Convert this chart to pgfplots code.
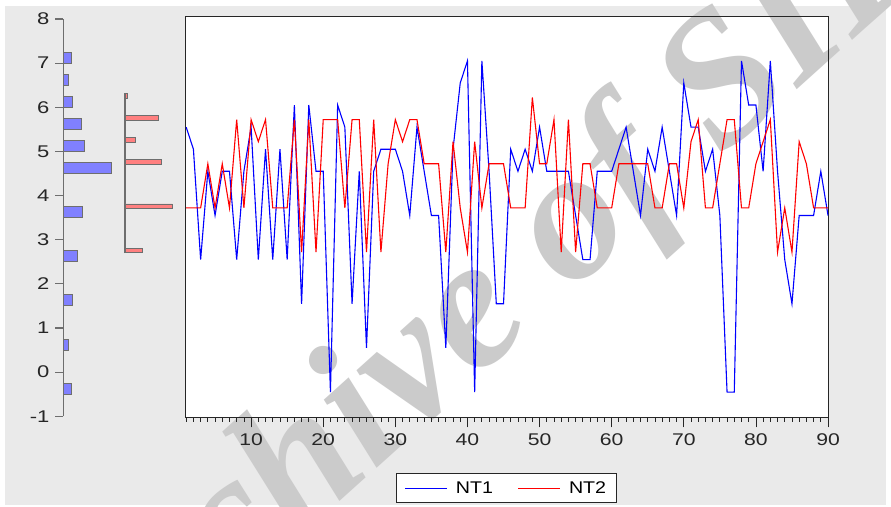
\documentclass[border=0pt]{standalone}
\usepackage{fontspec}
\setmainfont{Liberation Sans}
\newfontfamily\wmfont{Liberation Serif}
\usepackage{pgfplots}
\pgfplotsset{compat=1.18}
\usepackage{pgfplotstable}

\definecolor{bggray}{HTML}{EAEAEA}
\definecolor{wmgray}{HTML}{CBCBCB}
\definecolor{histblue}{HTML}{8080FF}
\definecolor{histred}{HTML}{FF8080}
\definecolor{axgray}{HTML}{6E6E6E}

\pgfplotstableread{
x nt1 nt2
1 5.55 3.72
2 5.05 3.72
3 2.55 3.72
4 4.55 4.72
5 3.55 3.72
6 4.55 4.72
7 4.55 3.72
8 2.55 5.72
9 4.55 3.72
10 5.55 5.72
11 2.55 5.22
12 5.05 5.72
13 2.55 3.72
14 5.05 3.72
15 2.55 3.72
16 6.05 5.72
17 1.55 2.72
18 6.05 5.72
19 4.55 2.72
20 4.55 5.72
21 -0.45 5.72
22 6.05 5.72
23 5.55 3.72
24 1.55 5.72
25 4.55 5.72
26 0.55 2.72
27 4.55 5.72
28 5.05 2.72
29 5.05 4.72
30 5.05 5.72
31 4.55 5.22
32 3.55 5.72
33 5.55 5.72
34 4.55 4.72
35 3.55 4.72
36 3.55 4.72
37 0.55 2.72
38 5.05 5.22
39 6.55 3.72
40 7.05 2.72
41 -0.45 5.22
42 7.05 3.72
43 4.55 4.72
44 1.55 4.72
45 1.55 4.72
46 5.05 3.72
47 4.55 3.72
48 5.05 3.72
49 4.55 6.22
50 5.55 4.72
51 4.55 4.72
52 4.55 5.72
53 4.55 2.72
54 4.55 5.72
55 3.55 2.72
56 2.55 4.72
57 2.55 4.72
58 4.55 3.72
59 4.55 3.72
60 4.55 3.72
61 5.05 4.72
62 5.55 4.72
63 4.55 4.72
64 3.55 4.72
65 5.05 4.72
66 4.55 3.72
67 5.55 3.72
68 4.55 4.72
69 3.55 4.72
70 6.55 3.72
71 5.55 5.22
72 5.55 5.72
73 4.55 3.72
74 5.05 3.72
75 3.55 4.72
76 -0.45 5.72
77 -0.45 5.72
78 7.05 3.72
79 6.05 3.72
80 6.05 4.72
81 4.55 5.22
82 7.05 5.72
83 4.55 2.72
84 2.55 3.72
85 1.55 2.72
86 3.55 5.22
87 3.55 4.72
88 3.55 3.72
89 4.55 3.72
90 3.55 3.72
}\ntdata

\pgfplotstableread{
y len
-0.375 8.0
0.625 5.3
1.625 9.6
2.625 14.6
3.625 19.3
4.625 48.6
5.125 21.3
5.625 18.0
6.125 9.6
6.625 5.3
7.125 8.0
}\histone

\pgfplotstableread{
y len
2.76 17.0
3.76 47.3
4.76 36.3
5.26 10.3
5.76 33.0
6.26 2.4
}\histtwo

\begin{document}
\begin{tikzpicture}[x=1bp,y=-1bp]
\useasboundingbox (0,0) rectangle (891,507);
\fill[white] (0,0) rectangle (891,507);
\fill[bggray] (5,6) rectangle (886,505);
\fill[white] (185.7,16.7) rectangle (828.3,417.3);
\begin{scope}
\clip (0,0) rectangle (891,507);
\node[text=wmgray, rotate=42, inner sep=0pt, font=\wmfont\bfseries\itshape\fontsize{188}{188}\selectfont] at (489.8,304.7) {Archive of SID};
\end{scope}

% left axis with NT1 histogram
\begin{axis}[
  at={(63.3bp,-416.3bp)}, anchor=south west, scale only axis,
  width=120bp, height=397.3bp,
  xmin=0, xmax=120, ymin=-1, ymax=8,
  axis y line*=left, axis x line=none,
  y axis line style={axgray, line width=1.3bp},
  ytick={-1,0,...,8}, xtick=\empty,
  tick align=outside, major tick length=8bp,
  ytick style={axgray, line width=1.2bp},
  yticklabel style={font=\fontsize{17}{20}\selectfont, text=black!85, xscale=1.3, xshift=-1bp},
  /pgf/number format/assume math mode=true,
  clip=false,
]
\addplot[xbar, bar width=11bp, fill=histblue, draw=axgray, line width=0.9bp] table[x=len, y=y] {\histone};
\end{axis}

% NT2 histogram
\begin{axis}[
  at={(125bp,-253.0bp)}, anchor=south west, scale only axis,
  width=60bp, height=159.8bp,
  xmin=0, xmax=60, ymin=2.70, ymax=6.32,
  axis y line*=left, axis x line=none,
  y axis line style={axgray, line width=1.3bp},
  ytick=\empty, xtick=\empty,
  clip=false,
]
\addplot[xbar, bar width=4.5bp, fill=histred, draw=axgray, line width=0.9bp] table[x=len, y=y] {\histtwo};
\end{axis}

% main plot
\begin{axis}[
  at={(185.7bp,-417.3bp)}, anchor=south west, scale only axis,
  width=642.6bp, height=400.6bp,
  xmin=0.93, xmax=90.04, ymin=-1.02, ymax=8.05,
  axis line style={black!85, line width=1bp},
  xtick={10,20,...,90}, minor xtick={1,...,90}, ytick=\empty,
  xtick pos=bottom,
  tick align=outside, major tick length=10bp, minor tick length=4.5bp,
  tick style={black!85, line width=0.8bp},
  xticklabel style={font=\fontsize{17}{20}\selectfont, text=black!85, xscale=1.25, yshift=-3bp},
  /pgf/number format/assume math mode=true,
  legend style={at={(0.4992,-0.1765)}, anchor=center, draw=black!85, fill=white,
    line width=0.8bp, font=\fontsize{17}{20}\selectfont, inner xsep=8bp, inner ysep=5.5bp,
    /tikz/every even column/.append style={column sep=23bp}},
  legend columns=2,
  legend image code/.code={\draw[#1, line width=1bp] (0bp,0bp) -- (42bp,0bp); \path (48bp,0bp);},
]
\addplot[color={rgb,255:red,0;green,0;blue,255}, line width=1.1bp] table[x=x, y=nt1] {\ntdata};
\addlegendentry{\scalebox{1.16}[1]{NT1}}
\addplot[color={rgb,255:red,255;green,0;blue,0}, line width=1.1bp] table[x=x, y=nt2] {\ntdata};
\addlegendentry{\scalebox{1.16}[1]{NT2}}
\end{axis}
\end{tikzpicture}
\end{document}
